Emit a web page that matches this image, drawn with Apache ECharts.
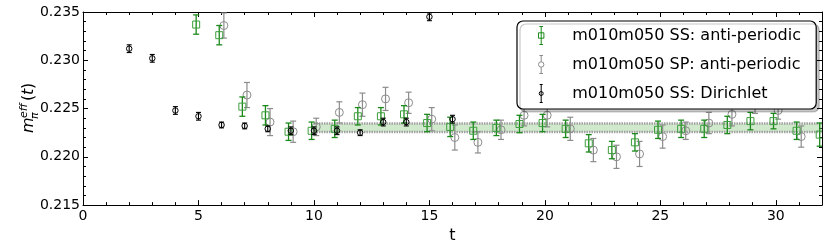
<!DOCTYPE html>
<html><head><meta charset="utf-8">
<script src="https://cdn.jsdelivr.net/npm/echarts@6/dist/echarts.min.js"></script>
<style>html,body{margin:0;padding:0;background:#fff}#c{width:830px;height:249px}</style>
</head><body><div id="c"></div>
<script>
// ---- data ----
const tSS = [5,6,7,8,9,10,11,12,13,14,15,16,17,18,19,20,21,22,23,24,25,26,27,28,29,30,31,32];
const ssVal = [0.2337,0.2326,0.2252,0.2243,0.2226,0.2227,0.2229,0.2242,0.2242,0.2244,0.2235,0.2231,0.2227,0.2230,0.2234,0.2235,0.2229,0.2214,0.2207,0.2215,0.2228,0.2229,0.2229,0.2233,0.2237,0.2237,0.2227,0.2223];
const ssErr = [0.0010,0.0010,0.0010,0.0010,0.0009,0.0009,0.0009,0.0009,0.0009,0.0009,0.0009,0.0010,0.0009,0.0008,0.0009,0.0009,0.0009,0.0009,0.0009,0.0009,0.0009,0.0009,0.0009,0.0009,0.0009,0.0008,0.0009,0.0012];

const tSP = [6,7,8,9,10,11,12,13,14,15,16,17,18,19,20,21,22,23,24,25,26,27,28,29,30,31];
const spVal = [0.2336,0.2264,0.2236,0.2226,0.2231,0.2246,0.2254,0.2260,0.2256,0.2239,0.2220,0.2215,0.2228,0.2243,0.2243,0.2229,0.2207,0.2200,0.2203,0.2221,0.2227,0.2235,0.2244,0.2257,0.2248,0.2221];
const spErr = [0.0013,0.0013,0.0014,0.0011,0.0009,0.0011,0.0012,0.0012,0.0011,0.0012,0.0013,0.0011,0.0010,0.0011,0.0012,0.0012,0.0012,0.0012,0.0013,0.0012,0.0009,0.0011,0.0012,0.0012,0.0009,0.0011];

const tDir = [2,3,4,5,6,7,8,9,10,11,12,13,14,15,16];
const dirVal = [0.2312,0.2302,0.2248,0.2242,0.2233,0.2232,0.2229,0.2227,0.2227,0.2227,0.2225,0.2236,0.2236,0.2345,0.2239];
const dirErr = [0.0004,0.0004,0.0004,0.0004,0.0003,0.0003,0.0003,0.0004,0.0004,0.0004,0.0003,0.0004,0.0004,0.0004,0.0004];

const fitRange = [10, 32];
const fitBand = [0.22257, 0.22345];

const names = ['m010m050 SS: anti-periodic','m010m050 SP: anti-periodic','m010m050 SS: Dirichlet'];
const yTicks = [0.215,0.220,0.225,0.230,0.235];

// ---- styling ----
const GREEN = '#1b8a1b', GREEN_M = '#3c9e3c', GREY = '#8c8c8c', BLACK = '#000';
const FONT = 'DejaVu Sans';

function errRender(opt){
  return function(params, api){
    const x = api.value(0) + opt.dx, y = api.value(1), e = api.value(2);
    const p = api.coord([x, y]);
    const t = api.coord([x, y + e]);
    const b = api.coord([x, y - e]);
    const cw = opt.cap;
    const children = [
      {type:'line', shape:{x1:p[0],y1:t[1],x2:p[0],y2:b[1]}, style:{stroke:opt.bar, lineWidth:opt.lw}},
      {type:'line', shape:{x1:p[0]-cw,y1:t[1],x2:p[0]+cw,y2:t[1]}, style:{stroke:opt.bar, lineWidth:opt.lw}},
      {type:'line', shape:{x1:p[0]-cw,y1:b[1],x2:p[0]+cw,y2:b[1]}, style:{stroke:opt.bar, lineWidth:opt.lw}}
    ];
    if (opt.marker === 'square') {
      const s = opt.size;
      children.push({type:'rect', shape:{x:p[0]-s/2,y:p[1]-s/2,width:s,height:s}, style:{fill:'none', stroke:opt.mcol, lineWidth:1}});
    } else {
      children.push({type:'circle', shape:{cx:p[0],cy:p[1],r:opt.size/2}, style:{fill:'none', stroke:opt.mcol, lineWidth:1}});
    }
    return {type:'group', children};
  };
}

function bandRender(params, api){
  const a = api.coord([api.value(0), api.value(3)]);
  const b = api.coord([api.value(1), api.value(2)]);
  return {type:'group', children:[
    {type:'rect', shape:{x:a[0], y:a[1], width:b[0]-a[0], height:b[1]-a[1]}, style:{fill:'rgba(120,190,110,0.35)'}},
    {type:'line', shape:{x1:a[0],y1:a[1],x2:b[0],y2:a[1]}, style:{stroke:'#a0a0a0', lineWidth:2.5, lineDash:[1.5,1]}},
    {type:'line', shape:{x1:a[0],y1:b[1],x2:b[0],y2:b[1]}, style:{stroke:'#a0a0a0', lineWidth:2.5, lineDash:[1.5,1]}}
  ]};
}

const zip = (ts, vs, es) => ts.map((t,i)=>[t, vs[i], es[i]]);

const axisCommon = {
  axisLine:{show:true, onZero:false, lineStyle:{color:'#000', width:1}},
  axisTick:{show:true, inside:true, length:5, lineStyle:{color:'#000'}},
  minorTick:{show:true, splitNumber:5, length:3, lineStyle:{color:'#000'}},
  splitLine:{show:false}
};

const iconSS = 'path://M2,7H8V13H2Z M5,0V20 M3,0H7 M3,20H7';
const iconSP = 'path://M8,10A3,3 0 1 1 2,10A3,3 0 1 1 8,10Z M5,0V7 M5,13V20 M3,0H7 M3,20H7';
const iconDir = 'path://M7,10A2,2 0 1 1 3,10A2,2 0 1 1 7,10Z M5,1V19 M3.5,1H6.5 M3.5,19H6.5';

const option = {
  animation:false,
  backgroundColor:'#fff',
  textStyle:{fontFamily:FONT},
  grid:{left:83, right:8, top:12, bottom:38},
  xAxis:[
    Object.assign({type:'value', min:0, max:32, interval:5, position:'bottom',
      name:'t', nameLocation:'middle', nameGap:21, nameTextStyle:{fontSize:16, color:'#000', fontFamily:FONT},
      axisLabel:{fontSize:14, color:'#000', margin:4, fontFamily:FONT,
        formatter:v=> (v%5===0 ? String(v) : '')}}, axisCommon),
    Object.assign({type:'value', min:0, max:32, interval:5, position:'top', axisLabel:{show:false}}, axisCommon)
  ],
  yAxis:[
    Object.assign({type:'value', min:yTicks[0], max:yTicks[yTicks.length-1], interval:0.005, position:'left',
      axisLabel:{fontSize:14, color:'#000', margin:3, fontFamily:FONT, formatter:v=>v.toFixed(3)}}, axisCommon),
    Object.assign({type:'value', min:yTicks[0], max:yTicks[yTicks.length-1], interval:0.005, position:'right',
      axisLabel:{show:false}}, axisCommon)
  ],
  legend:{
    orient:'vertical', left:517, top:21,
    padding:[3,6,4,19], itemGap:6, itemWidth:10, itemHeight:18,
    backgroundColor:'#fff', borderColor:'#000', borderWidth:1.2, borderRadius:6,
    shadowColor:'rgba(0,0,0,0.22)', shadowOffsetX:3, shadowOffsetY:3, shadowBlur:0,
    textStyle:{fontSize:16, color:'#000', fontFamily:FONT, lineHeight:18, padding:[0,0,0,21], width:238, overflow:'none'},
    data:[
      {name:names[0], icon:iconSS, itemStyle:{color:'none', borderColor:GREEN, borderWidth:1}},
      {name:names[1], icon:iconSP, itemStyle:{color:'none', borderColor:GREY, borderWidth:1}},
      {name:names[2], icon:iconDir, itemStyle:{color:'none', borderColor:BLACK, borderWidth:1}}
    ]
  },
  graphic:[{
    type:'group', x:29, y:133, rotation:Math.PI/2,
    children:[
      {type:'text', x:0, y:0, style:{text:'m', font:'italic 16px "DejaVu Sans"', fill:'#000', verticalAlign:'middle', align:'left'}},
      {type:'text', x:15, y:-5, style:{text:'eff', font:'italic 11px "DejaVu Sans"', fill:'#000', verticalAlign:'middle', align:'left'}},
      {type:'text', x:14, y:6, style:{text:'π', font:'italic 11px "DejaVu Sans"', fill:'#000', verticalAlign:'middle', align:'left'}},
      {type:'text', x:32, y:0, style:{text:'(', font:'16px "DejaVu Sans"', fill:'#000', verticalAlign:'middle', align:'left'}},
      {type:'text', x:38, y:0, style:{text:'t', font:'italic 16px "DejaVu Sans"', fill:'#000', verticalAlign:'middle', align:'left'}},
      {type:'text', x:44, y:0, style:{text:')', font:'16px "DejaVu Sans"', fill:'#000', verticalAlign:'middle', align:'left'}}
    ]
  }],
  series:[
    {type:'custom', name:'fit', renderItem:bandRender, clip:true, z:1,
      data:[[fitRange[0], fitRange[1], fitBand[0], fitBand[1]]], silent:true},
    {type:'custom', name:names[1], clip:true, z:2, itemStyle:{color:GREY},
      renderItem:errRender({dx:0.1, bar:GREY, mcol:GREY, lw:1.2, cap:3, marker:'circle', size:8}),
      data:zip(tSP, spVal, spErr)},
    {type:'custom', name:names[0], clip:true, z:3, itemStyle:{color:GREEN},
      renderItem:errRender({dx:-0.1, bar:GREEN, mcol:GREEN_M, lw:1.3, cap:3, marker:'square', size:7}),
      data:zip(tSS, ssVal, ssErr)},
    {type:'custom', name:names[2], clip:true, z:4, itemStyle:{color:BLACK},
      renderItem:errRender({dx:0, bar:BLACK, mcol:BLACK, lw:1.1, cap:2.5, marker:'circle', size:5.5}),
      data:zip(tDir, dirVal, dirErr)}
  ]
};

const chart = echarts.init(document.getElementById('c'), null, {renderer:'canvas'});
chart.setOption(option);
</script>
</body></html>
